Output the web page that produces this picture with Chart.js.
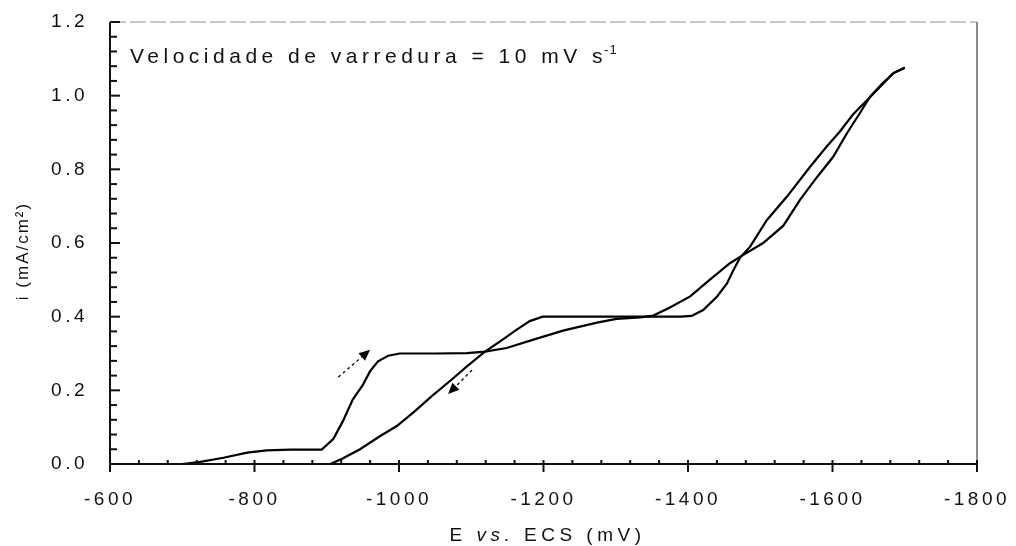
<!DOCTYPE html>
<html>
<head>
<meta charset="utf-8">
<script src="https://cdn.jsdelivr.net/npm/chart.js@4"></script>
<style>
  html, body { margin: 0; padding: 0; background: #fff; }
  #wrap { width: 1016px; height: 546px; }
</style>
</head>
<body>
<div id="wrap"><canvas id="cv" width="1016" height="546"></canvas></div>
<script>
// eixos
const xTicks = [-600, -800, -1000, -1200, -1400, -1600, -1800];
const yTicks = [0, 0.2, 0.4, 0.6, 0.8, 1.0, 1.2];

// varredura catódica (ida)
const forwardE = [-700, -725, -757, -790, -817, -850, -893, -909, -922, -936, -950, -960, -971, -985, -1001,
  -1050, -1094, -1119, -1149, -1185, -1227, -1274, -1301, -1334, -1352, -1375, -1403, -1430, -1458, -1476,
  -1504, -1532, -1555, -1579, -1601, -1620, -1638, -1652, -1670, -1685, -1700];
const forwardI = [0, 0.006, 0.017, 0.031, 0.037, 0.039, 0.039, 0.068, 0.115, 0.175, 0.215, 0.252, 0.279, 0.294, 0.300,
  0.300, 0.301, 0.305, 0.315, 0.337, 0.362, 0.384, 0.394, 0.398, 0.403, 0.425, 0.455, 0.50, 0.545, 0.567,
  0.60, 0.647, 0.717, 0.78, 0.834, 0.898, 0.953, 0.997, 1.035, 1.062, 1.076];

// volta
const reverseE = [-1700, -1684, -1666, -1648, -1628, -1610, -1592, -1569, -1537, -1509, -1486, -1472, -1463,
  -1454, -1440, -1421, -1405, -1390, -1300, -1199, -1181, -1163, -1140, -1119, -1094, -1071, -1047, -1020,
  -997, -974, -946, -922, -905];
const reverseI = [1.076, 1.061, 1.024, 0.988, 0.948, 0.902, 0.862, 0.807, 0.726, 0.662, 0.59, 0.56, 0.527,
  0.49, 0.454, 0.418, 0.402, 0.40, 0.40, 0.40, 0.388, 0.365, 0.333, 0.305, 0.265, 0.226, 0.187, 0.14,
  0.103, 0.076, 0.04, 0.015, 0];

// setas (cauda -> ponta), em unidades dos dados
const arrowUp = [[-916, 0.236], [-960, 0.31]];
const arrowDown = [[-1101, 0.255], [-1068, 0.19]];

const FONT = "Liberation Sans, Arial, sans-serif";

const toPts = (es, is) => es.map((e, k) => ({ x: e, y: is[k] }));

const spacing = {
  id: "spacing",
  beforeLayout(chart) { chart.ctx.letterSpacing = "3.5px"; },
  beforeDraw(chart) { chart.ctx.letterSpacing = "3.5px"; }
};

const frame = {
  id: "frame",
  afterDraw(chart) {
    const { ctx, chartArea: a, scales: { x, y } } = chart;
    const line = (x1, y1, x2, y2) => {
      ctx.beginPath(); ctx.moveTo(x1, y1); ctx.lineTo(x2, y2); ctx.stroke();
    };
    ctx.save();

    // borda superior e direita
    ctx.strokeStyle = "#b8b8b8";
    ctx.lineWidth = 1.5;
    ctx.setLineDash([16, 4]);
    line(a.left, a.top, a.right, a.top);
    ctx.setLineDash([]);
    ctx.strokeStyle = "#666";
    ctx.lineWidth = 1.5;
    line(a.right, a.top, a.right, a.bottom);

    // eixos
    ctx.strokeStyle = "#111";
    ctx.lineWidth = 2;
    line(a.left, a.top, a.left, a.bottom);
    line(a.left, a.bottom, a.right, a.bottom);

    // marcas
    for (let k = 0; k <= 30; k++) {
      const py = y.getPixelForValue(k * 0.04);
      line(a.left, py, a.left + (k % 5 === 0 ? 10 : 7), py);
      const px = x.getPixelForValue(-600 - k * 40);
      if (k % 5 === 0) line(px, a.bottom - 4, px, a.bottom + 8);
      else line(px, a.bottom - 4, px, a.bottom);
    }

    // setas
    const arrow = (pts) => {
      const [t, h] = pts.map(p => [x.getPixelForValue(p[0]), y.getPixelForValue(p[1])]);
      const ang = Math.atan2(h[1] - t[1], h[0] - t[0]);
      const len = 11;
      const bx = h[0] - len * Math.cos(ang), by = h[1] - len * Math.sin(ang);
      ctx.strokeStyle = "#222";
      ctx.lineWidth = 1.5;
      ctx.setLineDash([3, 3]);
      line(t[0], t[1], bx, by);
      ctx.setLineDash([]);
      ctx.fillStyle = "#000";
      ctx.beginPath();
      ctx.moveTo(h[0], h[1]);
      ctx.lineTo(bx + 5 * Math.sin(ang), by - 5 * Math.cos(ang));
      ctx.lineTo(bx - 5 * Math.sin(ang), by + 5 * Math.cos(ang));
      ctx.closePath();
      ctx.fill();
    };
    arrow(arrowUp);
    arrow(arrowDown);

    // textos
    ctx.fillStyle = "#111";
    ctx.textBaseline = "alphabetic";
    ctx.letterSpacing = "4.5px";
    ctx.font = "21px " + FONT;
    let tx = a.left + 20;
    const ty = a.top + 41;
    const t1 = "Velocidade de varredura = 10 mV s";
    ctx.fillText(t1, tx, ty);
    tx += ctx.measureText(t1).width - 3;
    ctx.letterSpacing = "1px";
    ctx.font = "13px " + FONT;
    ctx.fillText("-1", tx, ty - 9);

    // título eixo x
    ctx.letterSpacing = "4.5px";
    const parts = [["E ", "19px "], ["vs.", "italic 19px "], [" ECS (mV)", "19px "]];
    let w = 0;
    parts.forEach(p => { ctx.font = p[1] + FONT; w += ctx.measureText(p[0]).width; });
    let cx = (a.left + a.right) / 2 - w / 2 + 4;
    parts.forEach(p => {
      ctx.font = p[1] + FONT;
      ctx.fillText(p[0], cx, 541);
      cx += ctx.measureText(p[0]).width;
    });

    // título eixo y
    ctx.save();
    ctx.translate(28, (a.top + a.bottom) / 2 + 8);
    ctx.rotate(-Math.PI / 2);
    ctx.textAlign = "center";
    ctx.letterSpacing = "2px";
    ctx.font = "17px " + FONT;
    ctx.fillText("i (mA/cm²)", 0, 0);
    ctx.restore();

    ctx.restore();
  }
};

new Chart(document.getElementById("cv"), {
  type: "scatter",
  data: {
    datasets: [
      { label: "ida", data: toPts(forwardE, forwardI) },
      { label: "volta", data: toPts(reverseE, reverseI) }
    ]
  },
  options: {
    responsive: false,
    animation: false,
    showLine: true,
    layout: { padding: { top: 22, right: 39, left: 0, bottom: 0 } },
    elements: {
      point: { radius: 0 },
      line: { borderColor: "#000", borderWidth: 2.2, tension: 0 }
    },
    plugins: { legend: { display: false }, tooltip: { enabled: false } },
    scales: {
      x: {
        type: "linear",
        reverse: true,
        min: -1800,
        max: -600,
        afterFit: s => { s.height = 82; s.paddingLeft = 0; s.paddingRight = 0; },
        afterBuildTicks: s => { s.ticks = xTicks.map(v => ({ value: v })); },
        grid: { display: false, drawTicks: false },
        border: { display: false },
        ticks: {
          padding: 24,
          color: "#111",
          font: { family: FONT, size: 19 },
          maxRotation: 0,
          callback: v => String(v)
        }
      },
      y: {
        type: "linear",
        min: 0,
        max: 1.2,
        afterFit: s => { s.width = 110; s.paddingTop = 0; s.paddingBottom = 0; },
        afterBuildTicks: s => { s.ticks = yTicks.map(v => ({ value: v })); },
        grid: { display: false, drawTicks: false },
        border: { display: false },
        ticks: {
          padding: 22,
          color: "#111",
          font: { family: FONT, size: 19 },
          callback: v => Number(v).toFixed(1)
        }
      }
    }
  },
  plugins: [spacing, frame]
});
</script>
</body>
</html>
